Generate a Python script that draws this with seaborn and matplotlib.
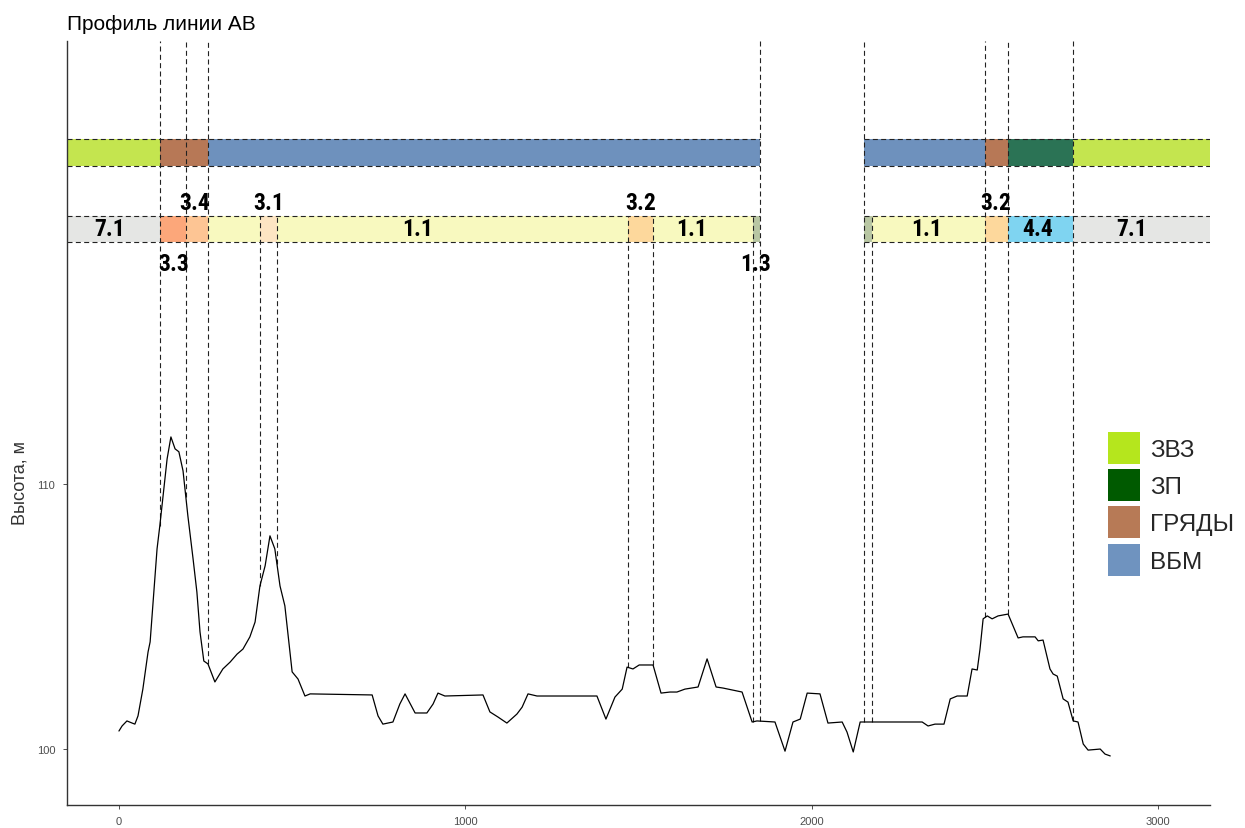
import numpy as np
import matplotlib
matplotlib.use("Agg")
import matplotlib.pyplot as plt
import seaborn as sns
from matplotlib.patches import Patch
from matplotlib import font_manager

# profile of line AB (distance, m / elevation, m)
dist = [0, 9, 23, 38, 46, 55, 69, 84, 90, 110, 118, 139, 150, 162, 173, 185, 199, 214, 225, 234,
        245, 257, 277, 300, 321, 341, 358, 378, 393, 407, 422, 436, 450, 465, 479, 500, 517, 537, 552, 731,
        748, 762, 791, 811, 826, 855, 889, 907, 921, 941, 1051, 1071, 1094, 1120, 1149, 1164, 1181, 1207, 1380, 1406,
        1432, 1453, 1467, 1484, 1502, 1542, 1565, 1591, 1611, 1634, 1672, 1698, 1724, 1744, 1799, 1828, 1842, 1894, 1923, 1946,
        1967, 1987, 2024, 2047, 2088, 2102, 2120, 2140, 2319, 2336, 2356, 2382, 2400, 2420, 2449, 2463, 2478, 2486, 2495, 2507,
        2521, 2538, 2567, 2596, 2610, 2645, 2654, 2668, 2688, 2697, 2709, 2726, 2740, 2755, 2769, 2784, 2798, 2833, 2847, 2862]
elev = [100.68, 100.87, 101.06, 100.98, 100.94, 101.25, 102.26, 103.66, 104.04, 107.55, 108.42, 110.94, 111.77, 111.32, 111.21, 110.49, 108.79, 107.17, 105.92, 104.42,
        103.32, 103.21, 102.53, 103.02, 103.28, 103.58, 103.77, 104.23, 104.79, 106.15, 106.91, 108.04, 107.55, 106.15, 105.40, 102.91, 102.64, 102.0, 102.08, 102.04,
        101.25, 100.94, 101.02, 101.70, 102.08, 101.36, 101.36, 101.70, 102.11, 102.0, 102.04, 101.40, 101.21, 100.98, 101.32, 101.58, 102.08, 102.0, 102.0, 101.13,
        101.96, 102.26, 103.09, 103.02, 103.17, 103.17, 102.11, 102.15, 102.15, 102.26, 102.34, 103.40, 102.34, 102.30, 102.15, 101.02, 101.06, 101.02, 99.92, 101.02,
        101.13, 102.11, 102.08, 100.98, 101.02, 100.64, 99.89, 101.02, 101.02, 100.87, 100.94, 100.94, 101.89, 102.0, 102.0, 103.02, 102.98, 103.77, 104.91, 105.02,
        104.91, 105.02, 105.09, 104.19, 104.23, 104.23, 104.08, 104.11, 103.02, 102.83, 102.75, 101.89, 101.77, 101.06, 101.02, 100.19, 99.96, 100.0, 99.81, 99.74]

# upper band: landscape units
unit_start = [-150, 118, 257, 2151, 2501, 2567, 2755]
unit_end = [118, 257, 1851, 2501, 2567, 2755, 3150]
unit_name = ['ЗВЗ', 'ГРЯДЫ', 'ВБМ', 'ВБМ', 'ГРЯДЫ', 'ЗП', 'ЗВЗ']
unit_colors = {'ЗВЗ': '#c4e54f', 'ЗП': '#2b7355', 'ГРЯДЫ': '#b77856', 'ВБМ': '#6e91bd'}
legend_names = ['ЗВЗ', 'ЗП', 'ГРЯДЫ', 'ВБМ']
legend_colors = ['#b5e61d', '#005a00', '#b77a56', '#6f93bf']

# lower band: vegetation codes
code_start = [-150, 118, 193, 257, 407, 456, 1470, 1542, 1831, 2151, 2174, 2501, 2567, 2755]
code_end = [118, 193, 257, 407, 456, 1470, 1542, 1831, 1851, 2174, 2501, 2567, 2755, 3150]
code_name = ['7.1', '3.3', '3.4', '1.1', '3.1', '1.1', '3.2', '1.1', '1.3', '1.3', '1.1', '3.2', '4.4', '7.1']
code_colors = {'7.1': '#e5e6e4', '3.3': '#fca77a', '3.4': '#fdc594', '1.1': '#f8f9bf',
               '3.1': '#fde5c3', '3.2': '#fdd89c', '1.3': '#b8c6a3', '4.4': '#7fd4f1'}

# code labels: text, x, place
lab_text = ['7.1', '3.3', '3.4', '3.1', '1.1', '3.2', '1.1', '1.3', '1.1', '3.2', '4.4', '7.1']
lab_x = [-26, 159, 219, 432, 861, 1507, 1652, 1837, 2332, 2531, 2652, 2925]
lab_pos = ['in', 'below', 'above', 'above', 'in', 'above', 'in', 'below', 'in', 'above', 'in', 'in']

# boundaries
tall_x = [118, 193, 257, 1851, 2151, 2501, 2567, 2755]
short_x = [407, 456, 1470, 1542, 1831, 2174]

# band pieces (left part / right part)
band_from = [-150, 2151]
band_to = [1851, 3150]

Y0, Y1 = 97.89, 126.7
TOP = (122.0, 123.02)
LOW = (119.13, 120.11)

sns.set_theme(style="white")
plt.rcParams['font.family'] = ['Liberation Sans', 'DejaVu Sans']
names = {f.name for f in font_manager.fontManager.ttflist}
lab_font = next((n for n in ['Roboto Condensed', 'Liberation Sans Narrow', 'DejaVu Sans'] if n in names), 'DejaVu Sans')

fig = plt.figure(figsize=(12.45, 8.29), dpi=100)
ax = fig.add_axes([67 / 1245, 23 / 829, 1143 / 1245, 764 / 829])

dash = (0, (4.5, 3))

# bands
ax.barh([np.mean(TOP)] * len(unit_start), np.subtract(unit_end, unit_start), left=unit_start,
        height=TOP[1] - TOP[0], color=[unit_colors[n] for n in unit_name], linewidth=0, zorder=1)
ax.barh([np.mean(LOW)] * len(code_start), np.subtract(code_end, code_start), left=code_start,
        height=LOW[1] - LOW[0], color=[code_colors[c] for c in code_name], linewidth=0, zorder=1)
for y in TOP + LOW:
    ax.hlines([y] * len(band_from), band_from, band_to, colors='#222222', linestyles=dash, lw=0.8, zorder=2)

# boundaries down to the profile
ax.vlines(tall_x, np.interp(tall_x, dist, elev), Y1, colors='#222222', linestyles=dash, lw=0.8, zorder=2)
ax.vlines(short_x, np.interp(short_x, dist, elev), LOW[1], colors='#222222', linestyles=dash, lw=0.8, zorder=2)

sns.lineplot(x=dist, y=elev, color='black', lw=0.9, ax=ax, sort=False, estimator=None, zorder=3)

ypos = {'in': np.mean(LOW), 'above': 120.62, 'below': 118.3}
for t, x, p in zip(lab_text, lab_x, lab_pos):
    ax.text(x, ypos[p], t, ha='center', va='center', fontsize=17, fontweight='bold',
            fontstretch='condensed', family=[lab_font, 'DejaVu Sans'], color='black', zorder=4)

ax.set_xlim(-150, 3150)
ax.set_ylim(Y0, Y1)
ax.set_xticks([0, 1000, 2000, 3000])
ax.set_yticks([100, 110])
ax.tick_params(axis='both', length=3, width=0.6, color='#333333', labelsize=8, labelcolor='#4d4d4d',
               bottom=True, left=True)
ax.tick_params(axis='y', pad=5.5)
ax.tick_params(axis='x', pad=5)
for s in ['top', 'right']:
    ax.spines[s].set_visible(False)
for s in ['left', 'bottom']:
    ax.spines[s].set_color('#333333')
    ax.spines[s].set_linewidth(1.0)
ax.set_xlabel('')
ax.set_ylabel('Высота, м', fontsize=13, color='#333333')
ax.yaxis.set_label_coords(-0.034, 0.423)
fig.text(67 / 1245, 1 - 25 / 829, 'Профиль линии АВ', fontsize=15, ha='left', va='center', color='black')

handles = [Patch(facecolor=c, edgecolor='none') for c in legend_colors]
ax.legend(handles, legend_names, loc='upper left', bbox_to_anchor=(1108 / 1245, 1 - 433 / 829),
          bbox_transform=fig.transFigure, frameon=False, fontsize=17.5, handlelength=1.32, handleheight=1.64,
          handletextpad=0.4, labelspacing=0.22, borderpad=0, borderaxespad=0)

fig.savefig('out.png', dpi=100)
